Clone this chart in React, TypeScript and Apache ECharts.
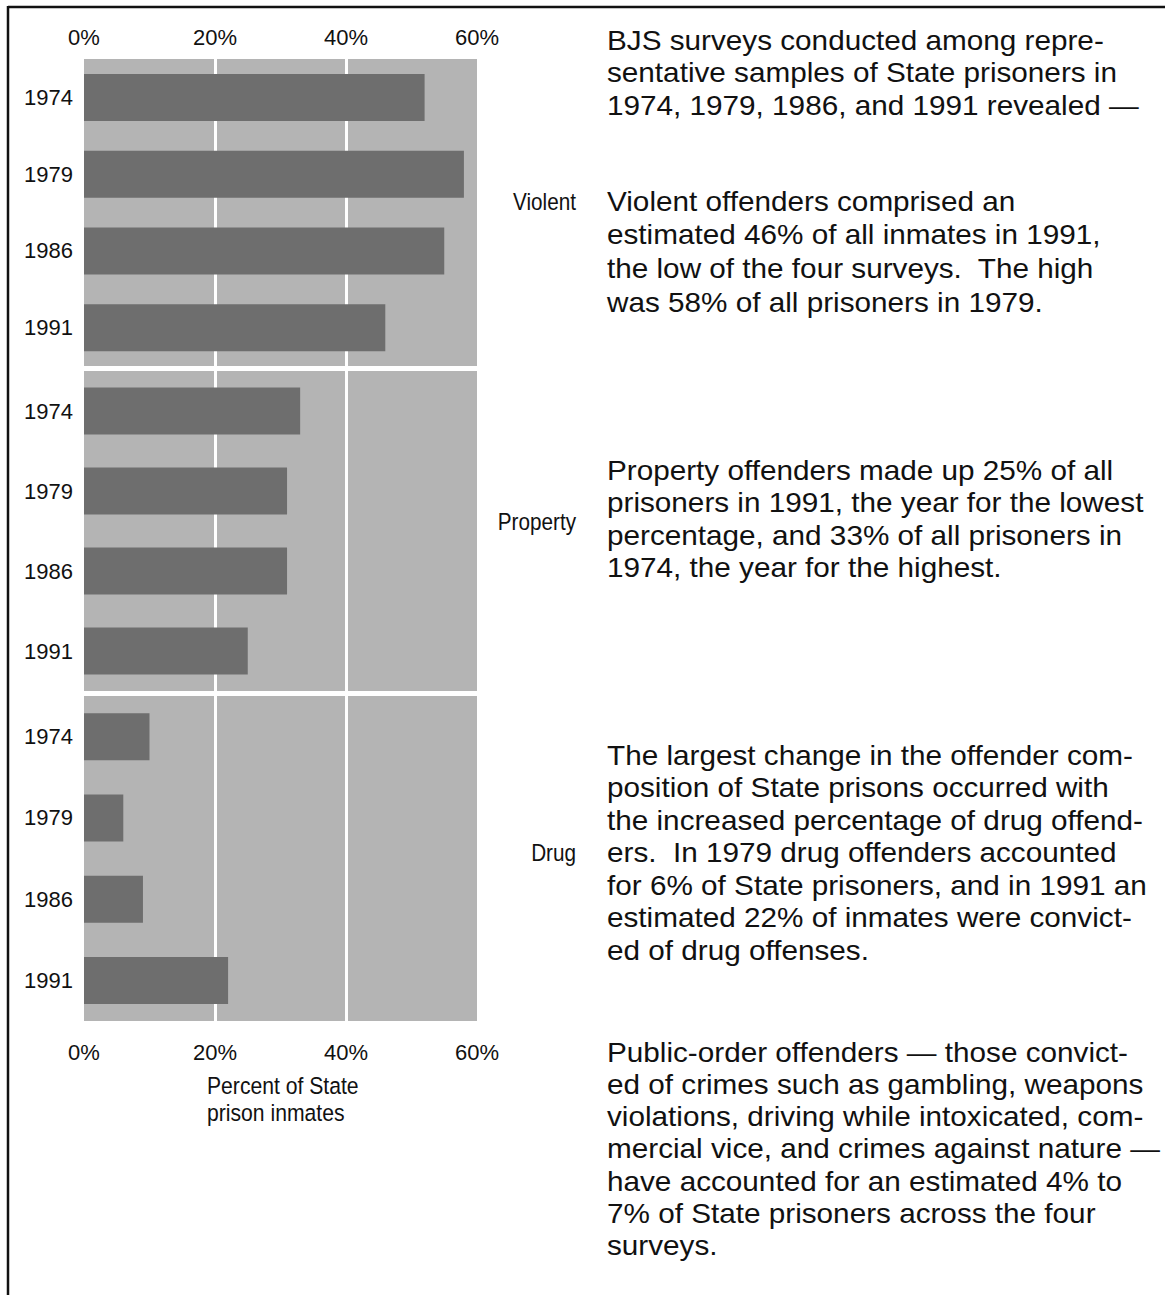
import React, { useEffect, useRef } from "react";
import * as echarts from "echarts";

const years = ["1974", "1979", "1986", "1991"];
const violent = [52, 58, 55, 46];
const property = [33, 31, 31, 25];
const drug = [10, 6, 9, 22];
const groupNames = ["Violent", "Property", "Drug"];
const axisMax = 60;
const axisStep = 20;
const axisTitle = ["Percent of State", "prison inmates"];

const blocks: string[][] = [
  [
    "BJS surveys conducted among repre-",
    "sentative samples of State prisoners in",
    "1974, 1979, 1986, and 1991 revealed \u2014",
  ],
  [
    "Violent offenders comprised an",
    "estimated 46% of all inmates in 1991,",
    "the low of the four surveys.  The high",
    "was 58% of all prisoners in 1979.",
  ],
  [
    "Property offenders made up 25% of all",
    "prisoners in 1991, the year for the lowest",
    "percentage, and 33% of all prisoners in",
    "1974, the year for the highest.",
  ],
  [
    "The largest change in the offender com-",
    "position of State prisons occurred with",
    "the increased percentage of drug offend-",
    "ers.  In 1979 drug offenders accounted",
    "for 6% of State prisoners, and in 1991 an",
    "estimated 22% of inmates were convict-",
    "ed of drug offenses.",
  ],
  [
    "Public-order offenders \u2014 those convict-",
    "ed of crimes such as gambling, weapons",
    "violations, driving while intoxicated, com-",
    "mercial vice, and crimes against nature \u2014",
    "have accounted for an estimated 4% to",
    "7% of State prisoners across the four",
    "surveys.",
  ],
];

const FONT = "'Liberation Sans', Arial, Helvetica, sans-serif";
const BG = "#b4b4b4";
const BAR = "#6e6e6e";
const INK = "#111111";

export default function App() {
  const ref = useRef<HTMLDivElement>(null);
  useEffect(() => {
    if (!ref.current) return;
    const chart = echarts.init(ref.current, undefined, { renderer: "svg" });
    const series = [violent, property, drug];
    const gridPos = [
      { top: 59, height: 307 },
      { top: 371, height: 320 },
      { top: 696, height: 325 },
    ];
    const groupLabelY = [202, 522, 853];
    const blockTop = [40, 201, 470, 755, 1052];
    const blockLH = [32.5, 33.7, 32.5, 32.5, 32.3];

    const graphics: any[] = [
      { type: "line", shape: { x1: 8, y1: 7, x2: 1165, y2: 7 }, style: { stroke: INK, lineWidth: 2.5 } },
      { type: "line", shape: { x1: 8, y1: 6, x2: 8, y2: 1295 }, style: { stroke: INK, lineWidth: 2.5 } },
    ];
    groupNames.forEach((g, i) => {
      graphics.push({
        type: "text",
        x: 576,
        y: groupLabelY[i],
        scaleX: 0.9,
        style: { text: g, fontSize: 23, fontFamily: FONT, fill: INK, align: "right", verticalAlign: "middle" },
      });
    });
    axisTitle.forEach((t, i) => {
      graphics.push({
        type: "text",
        x: 207,
        y: 1086 + i * 27,
        scaleX: 0.9,
        style: { text: t, fontSize: 23.5, fontFamily: FONT, fill: INK, align: "left", verticalAlign: "middle" },
      });
    });
    blocks.forEach((lines, b) => {
      lines.forEach((ln, i) => {
        graphics.push({
          type: "text",
          x: 607,
          y: blockTop[b] + i * blockLH[b],
          scaleX: 1.1,
          style: { text: ln, fontSize: 27, fontFamily: FONT, fill: INK, align: "left", verticalAlign: "middle" },
        });
      });
    });

    const option: any = {
      animation: false,
      backgroundColor: "#ffffff",
      grid: gridPos.map((p) => ({
        left: 84,
        width: 393,
        top: p.top,
        height: p.height,
        show: true,
        backgroundColor: BG,
        borderWidth: 0,
      })),
      xAxis: gridPos.map((_, i) => ({
        type: "value",
        gridIndex: i,
        min: 0,
        max: axisMax,
        interval: axisStep,
        position: i === 0 ? "top" : "bottom",
        axisLine: { show: false },
        axisTick: { show: false },
        axisLabel: {
          show: i !== 1,
          formatter: "{value}%",
          fontSize: 22,
          fontFamily: FONT,
          color: INK,
          margin: i === 0 ? 11 : 20,
        },
        splitLine: {
          show: true,
          showMinLine: false,
          showMaxLine: false,
          lineStyle: { color: "#ffffff", width: 3 },
        },
      })),
      yAxis: gridPos.map((_, i) => ({
        type: "category",
        gridIndex: i,
        data: years,
        inverse: true,
        axisLine: { show: false },
        axisTick: { show: false },
        splitLine: { show: false },
        axisLabel: { fontSize: 22, fontFamily: FONT, color: INK, margin: 11 },
      })),
      series: series.map((d, i) => ({
        type: "bar",
        name: groupNames[i],
        xAxisIndex: i,
        yAxisIndex: i,
        data: d,
        barWidth: 47,
        itemStyle: { color: BAR },
        silent: true,
      })),
      graphic: graphics,
    };
    chart.setOption(option);
    return () => chart.dispose();
  }, []);
  return (
    <div
      ref={ref}
      style={{ position: "absolute", left: 0, top: 0, width: 1165, height: 1295, background: "#fff" }}
    />
  );
}
